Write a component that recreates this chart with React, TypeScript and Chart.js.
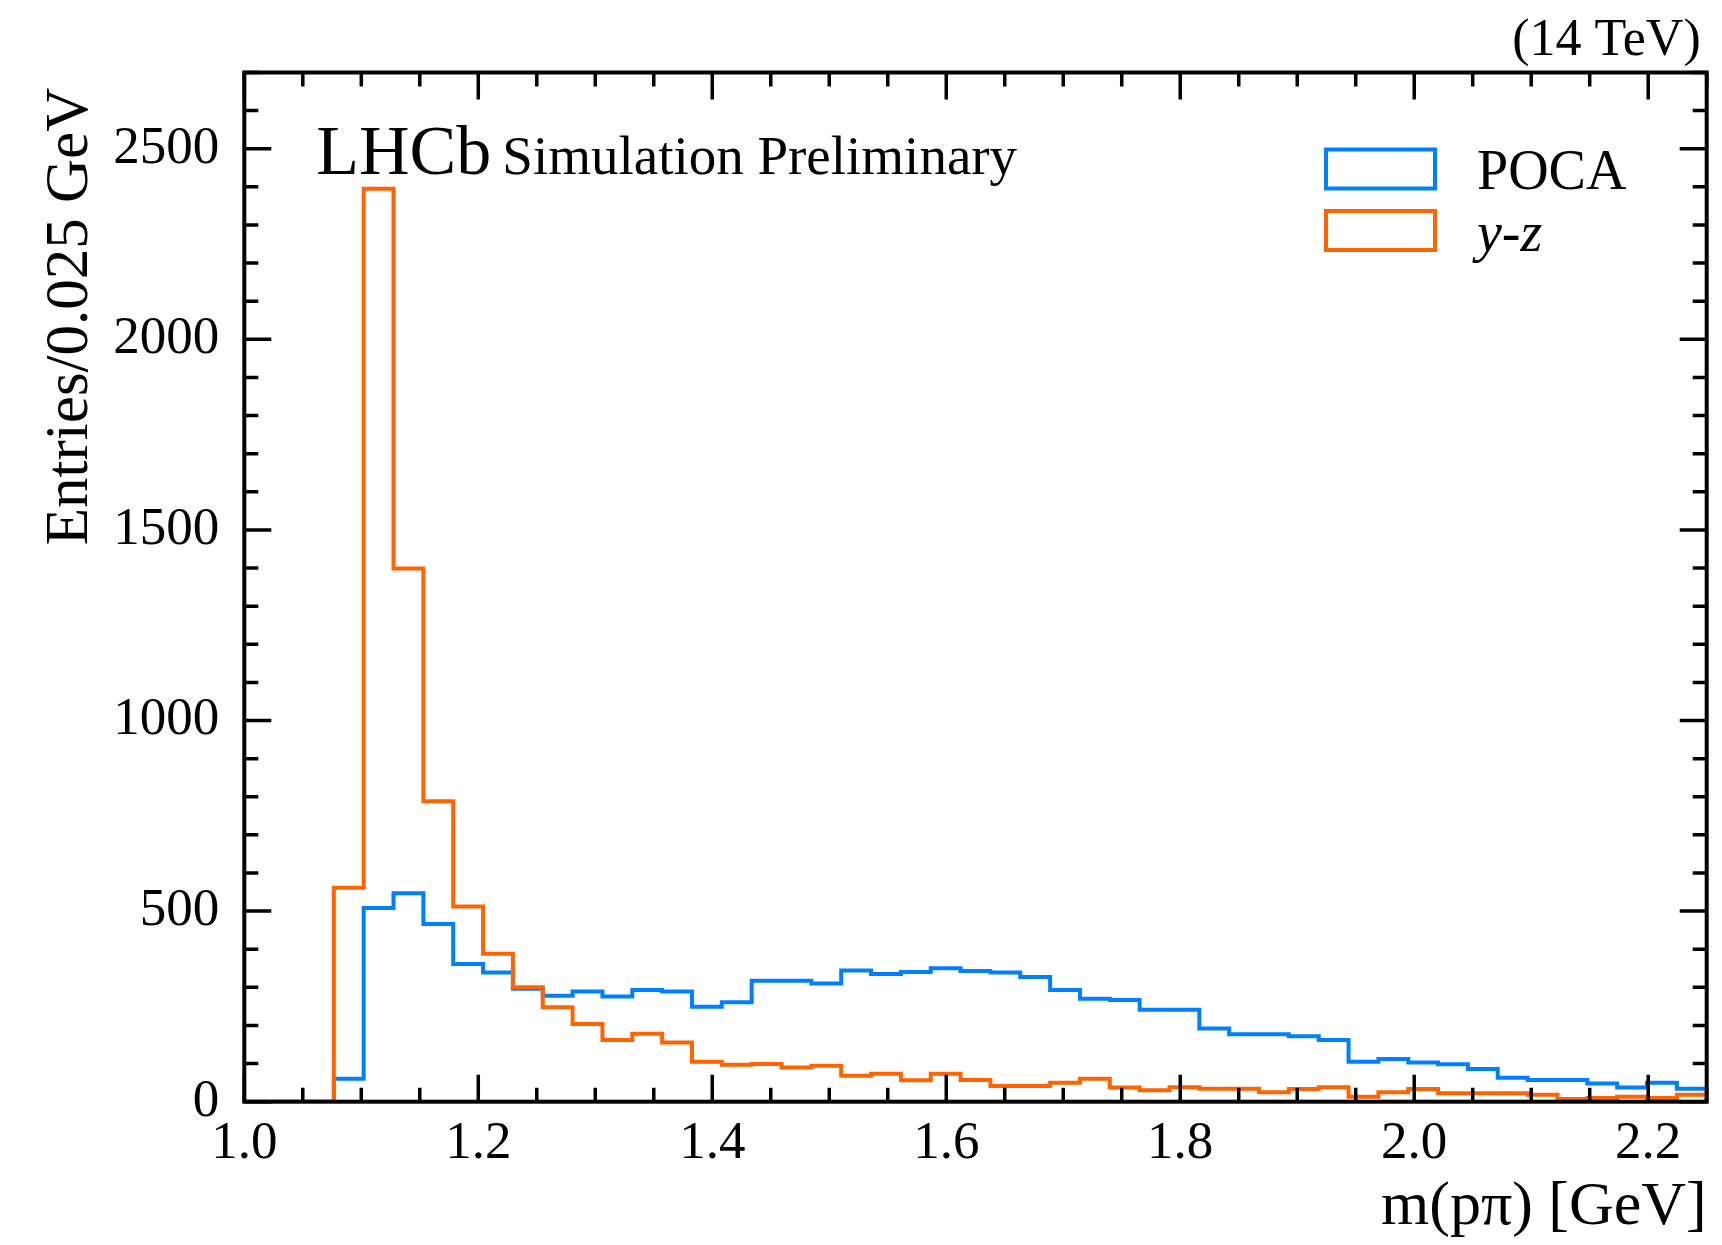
import React, { useEffect, useRef } from 'react';
import { Chart, registerables } from 'chart.js';

Chart.register(...registerables);

// ---- data ----
const HIST_MIN = 1.0;
const HIST_MAX = 2.25;
const pocaLabel = 'POCA';
const yzLabel = 'y-z';
const pocaCounts = [
  0, 0, 0, 60, 508, 547, 466, 361, 339, 296, 278, 289, 276, 293, 289, 249, 261,
  317, 317, 310, 344, 335, 340, 350, 343, 339, 327, 293, 270, 267, 241, 241, 192,
  177, 177, 172, 162, 105, 112, 103, 98, 86, 63, 57, 57, 48, 37, 50, 34,
];
const yzCounts = [
  0, 0, 0, 561, 2395, 1399, 788, 512, 388, 300, 248, 204, 162, 178, 155, 105, 97,
  99, 90, 94, 68, 73, 56, 73, 57, 41, 41, 50, 60, 37, 30, 38, 34, 34, 25, 33, 38,
  13, 25, 33, 22, 22, 22, 18, 7, 10, 13, 10, 18,
];
const xMajorTicks = [1.0, 1.2, 1.4, 1.6, 1.8, 2.0, 2.2];
const yMajorTicks = [0, 500, 1000, 1500, 2000, 2500];
const X_MINOR_STEP = 0.05;
const Y_MINOR_STEP = 100;
const Y_MAX = 2700;

const SERIF = '"Liberation Serif", "Times New Roman", serif';
const BLUE = '#0080ff';
const ORANGE = '#ff6400';

function stepPoints(counts: number[]) {
  const n = counts.length;
  const w = (HIST_MAX - HIST_MIN) / n;
  const pts: { x: number; y: number }[] = [{ x: HIST_MIN, y: 0 }];
  for (let i = 0; i < n; i++) pts.push({ x: HIST_MIN + i * w, y: counts[i] });
  pts.push({ x: HIST_MAX, y: counts[n - 1] });
  pts.push({ x: HIST_MAX, y: 0 });
  return pts;
}

const frameTicksPlugin = {
  id: 'frameTicks',
  afterDatasetsDraw(chart: any) {
    const { ctx, chartArea: a, scales } = chart;
    const xs = scales.x;
    const ys = scales.y;
    ctx.save();
    ctx.strokeStyle = '#000';
    ctx.lineCap = 'butt';
    ctx.lineWidth = 3.5;
    ctx.beginPath();
    const xMin = xs.min, xMax = xs.max;
    for (let i = 0; ; i++) {
      const v = xMin + i * X_MINOR_STEP;
      if (v > xMax + 1e-9) break;
      const major = xMajorTicks.some((t) => Math.abs(t - v) < 1e-6);
      const len = major ? 27 : 14;
      const px = xs.getPixelForValue(v);
      ctx.moveTo(px, a.bottom);
      ctx.lineTo(px, a.bottom - len);
      ctx.moveTo(px, a.top);
      ctx.lineTo(px, a.top + len);
    }
    for (let v = 0; v <= Y_MAX + 1e-9; v += Y_MINOR_STEP) {
      const major = yMajorTicks.includes(v);
      const len = major ? 27 : 14;
      const py = ys.getPixelForValue(v);
      ctx.moveTo(a.left, py);
      ctx.lineTo(a.left + len, py);
      ctx.moveTo(a.right, py);
      ctx.lineTo(a.right - len, py);
    }
    ctx.stroke();
    ctx.lineWidth = 4;
    ctx.strokeRect(a.left, a.top, a.right - a.left, a.bottom - a.top);
    ctx.restore();
  },
};

const annotationPlugin = {
  id: 'annotations',
  afterDraw(chart: any) {
    const { ctx, chartArea: a } = chart;
    ctx.save();
    ctx.fillStyle = '#000';
    ctx.textBaseline = 'alphabetic';
    ctx.textAlign = 'left';
    // LHCb label
    ctx.font = `70px ${SERIF}`;
    ctx.fillText('LHCb', a.left + 72, a.top + 101);
    ctx.font = `55px ${SERIF}`;
    ctx.fillText('Simulation Preliminary', a.left + 258, a.top + 101);
    // energy label
    ctx.textAlign = 'right';
    ctx.font = `52px ${SERIF}`;
    ctx.fillText('(14 TeV)', a.right - 6, 55);
    // legend
    ctx.textAlign = 'left';
    const ds = chart.data.datasets;
    const entries = [
      { label: ds[0].label, color: ds[0].borderColor, italic: false },
      { label: ds[1].label, color: ds[1].borderColor, italic: true },
    ];
    entries.forEach((e, i) => {
      const top = 149.5 + i * 61.5;
      ctx.strokeStyle = e.color;
      ctx.lineWidth = 4;
      ctx.strokeRect(1326, top, 109, 39);
      ctx.fillStyle = '#000';
      ctx.font = `${e.italic ? 'italic ' : ''}56px ${SERIF}`;
      ctx.fillText(e.label, 1477, top + 39.5);
    });
    ctx.restore();
  },
};

export default function App() {
  const canvasRef = useRef<HTMLCanvasElement | null>(null);

  useEffect(() => {
    document.body.style.margin = '0';
    const canvas = canvasRef.current;
    if (!canvas) return;
    const chart = new Chart(canvas, {
      type: 'line',
      data: {
        datasets: [
          {
            label: pocaLabel,
            data: stepPoints(pocaCounts),
            borderColor: BLUE,
            borderWidth: 4,
            stepped: 'before',
            pointRadius: 0,
            fill: false,
            order: 2,
          },
          {
            label: yzLabel,
            data: stepPoints(yzCounts),
            borderColor: ORANGE,
            borderWidth: 4,
            stepped: 'before',
            pointRadius: 0,
            fill: false,
            order: 1,
          },
        ],
      },
      options: {
        responsive: false,
        maintainAspectRatio: false,
        devicePixelRatio: 1,
        animation: false,
        layout: { padding: { top: 72.5, right: 15.3, bottom: 0, left: 0 } },
        plugins: {
          legend: { display: false },
          tooltip: { enabled: false },
        },
        scales: {
          x: {
            type: 'linear',
            position: 'bottom',
            min: HIST_MIN,
            max: HIST_MAX,
            grid: { display: false, drawTicks: false },
            border: { display: false },
            afterBuildTicks: (s: any) => {
              s.ticks = xMajorTicks.map((v) => ({ value: v }));
            },
            afterFit: (s: any) => {
              s.height = 143.3;
            },
            ticks: {
              autoSkip: false,
              maxRotation: 0,
              padding: 11,
              color: '#000',
              font: { family: SERIF, size: 53 },
              callback: (v: any) => Number(v).toFixed(1),
            },
            title: {
              display: true,
              text: 'm(pπ) [GeV]',
              align: 'end',
              color: '#000',
              font: { family: SERIF, size: 62 },
              padding: { top: 0, bottom: 0 },
            },
          },
          y: {
            type: 'linear',
            position: 'left',
            min: 0,
            max: Y_MAX,
            grid: { display: false, drawTicks: false },
            border: { display: false },
            afterBuildTicks: (s: any) => {
              s.ticks = yMajorTicks.map((v) => ({ value: v }));
            },
            afterFit: (s: any) => {
              s.width = 244.3;
            },
            ticks: {
              autoSkip: false,
              padding: 25,
              color: '#000',
              font: { family: SERIF, size: 53 },
              callback: (v: any) => String(v),
            },
            title: {
              display: true,
              text: 'Entries/0.025 GeV ',
              align: 'end',
              color: '#000',
              font: { family: SERIF, size: 61 },
              padding: { top: 34, bottom: 0 },
            },
          },
        },
      } as any,
      plugins: [frameTicksPlugin, annotationPlugin],
    });
    return () => chart.destroy();
  }, []);

  return (
    <canvas
      ref={canvasRef}
      width={1722}
      height={1245}
      style={{ position: 'absolute', left: 0, top: 0, width: 1722, height: 1245, display: 'block' }}
    />
  );
}
